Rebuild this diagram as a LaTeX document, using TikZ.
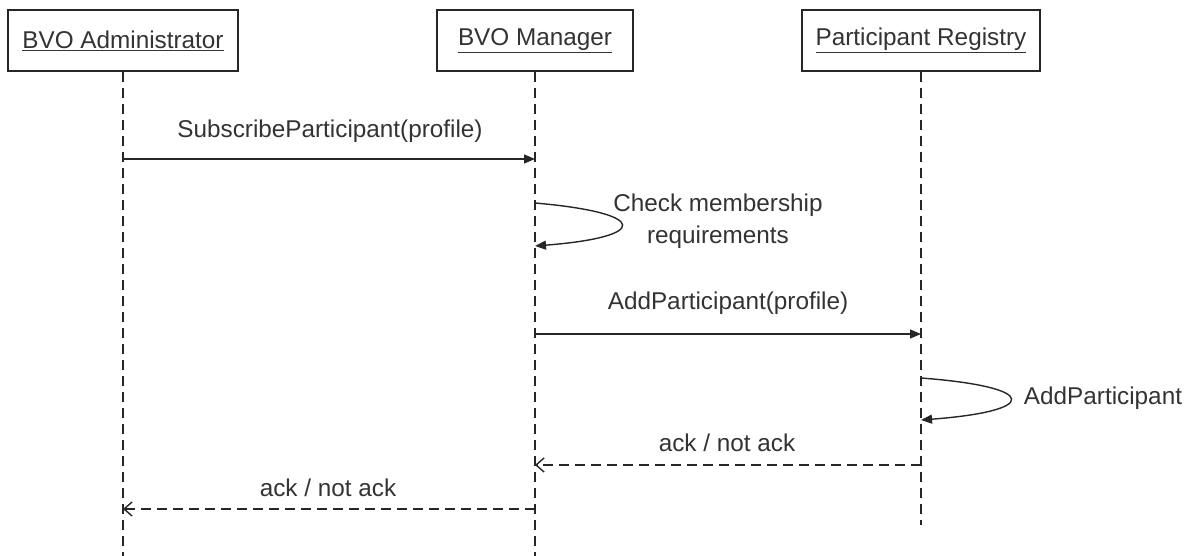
\documentclass[tikz,border=0pt]{standalone}
\usepackage{fontspec}
\setmainfont{Liberation Sans}
\usetikzlibrary{arrows.meta}
\definecolor{ink}{HTML}{262626}
\definecolor{txt}{HTML}{333333}
\tikzset{
  actor/.style={draw=ink, line width=1.5pt, fill=white, minimum width=230pt, minimum height=61pt,
    text=txt, font=\fontsize{24.3}{29}\selectfont, inner sep=0pt},
  lifeline/.style={draw=ink, line width=1.4pt, dash pattern=on 10pt off 6pt},
  call/.style={draw=ink, line width=1.4pt, -{Triangle[length=11pt,width=9pt]}},
  reply/.style={draw=ink, line width=1.4pt, dash pattern=on 10pt off 6pt, -{Straight Barb[length=8pt,width=14pt]}},
  selfcall/.style={draw=ink, line width=1.4pt, -{Triangle[length=11pt,width=9pt]}},
  msg/.style={text=txt, font=\fontsize{24.3}{29}\selectfont, align=center, inner sep=0pt}
}
\begin{document}
\begin{tikzpicture}[x=1pt,y=-1pt]
\useasboundingbox (0,0) rectangle (1190,556);

% actors
\node[actor] (adm) at (123,40.5) {\underline{BVO Administrator}};
\node[actor, minimum width=196pt] (mgr) at (535,40.5) {\underline{BVO Manager}};
\node[actor, minimum width=238pt] (reg) at (921,40.5) {\underline{Participant Registry}};

% lifeline ends
\coordinate (admEnd) at (123,556);
\coordinate (mgrEnd) at (535,556);
\coordinate (regEnd) at (921,525);
\draw[lifeline] (adm.south) -- (admEnd);
\draw[lifeline] (mgr.south) -- (mgrEnd);
\draw[lifeline] (reg.south) -- (regEnd);

% message anchor points on the lifelines
\coordinate (m1a) at (123,159);
\coordinate (m1b) at (535,159);
\coordinate (s1a) at (535,203);
\coordinate (s1b) at (535,246);
\coordinate (m2a) at (535,334);
\coordinate (m2b) at (921,334);
\coordinate (s2a) at (921,378);
\coordinate (s2b) at (921,420);
\coordinate (r1a) at (921,465);
\coordinate (r1b) at (535,465);
\coordinate (r2a) at (535,509);
\coordinate (r2b) at (123,509);

% messages
\draw[call] (m1a) -- (m1b);
\node[msg] (l1) at (330,131) {SubscribeParticipant(profile)};

\draw[selfcall] (s1a) .. controls (650,213) and (650,237) .. (s1b);
\node[msg] (l2) at (718,221) {Check membership\\[3pt]requirements};

\draw[call] (m2a) -- (m2b);
\node[msg] (l3) at (728,303) {AddParticipant(profile)};

\draw[selfcall] (s2a) .. controls (1040,387) and (1040,411) .. (s2b);
\node[msg] (l4) at (1103,398) {AddParticipant};

\draw[reply] (r1a) -- (r1b);
\node[msg] (l5) at (727,443) {ack / not ack};

\draw[reply] (r2a) -- (r2b);
\node[msg] (l6) at (328,488) {ack / not ack};
\end{tikzpicture}
\end{document}
